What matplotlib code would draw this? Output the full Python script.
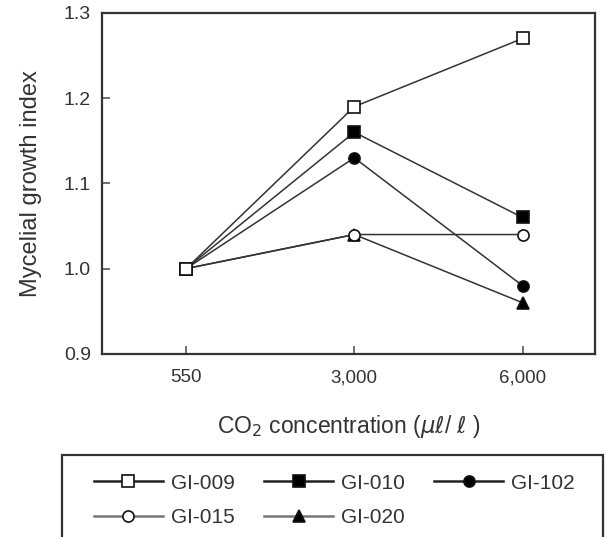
import matplotlib
matplotlib.use("Agg")
import matplotlib.pyplot as plt
from matplotlib.lines import Line2D
from matplotlib.patches import Rectangle

plt.rcParams['font.family'] = ['Liberation Sans', 'DejaVu Sans']

categories = ["550", "3,000", "6,000"]
series_names = ["GI-009", "GI-010", "GI-102", "GI-015", "GI-020"]
gi009 = [1.00, 1.19, 1.27]
gi010 = [1.00, 1.16, 1.06]
gi102 = [1.00, 1.13, 0.98]
gi015 = [1.00, 1.04, 1.04]
gi020 = [1.00, 1.04, 0.96]
yticks = [0.9, 1.0, 1.1, 1.2, 1.3]

series = [gi009, gi010, gi102, gi015, gi020]
markers = ['s', 's', 'o', 'o', '^']
msizes = [8.5, 8.5, 8, 8, 8]
faces = ['white', 'black', 'black', 'white', 'black']
zorders = [7, 4, 3, 6, 2]
leg_line_colors = ['#222222', '#222222', '#222222', '#777777', '#777777']

fig = plt.figure(figsize=(6.07, 5.37), dpi=100)
ax = fig.add_axes([0.168, 0.341, 0.812, 0.635])
x = list(range(len(categories)))
for vals, m, ms, fc, z in zip(series, markers, msizes, faces, zorders):
    ax.plot(x, vals, color='#333333', lw=1.1, marker=m, markersize=ms,
            markerfacecolor=fc, markeredgecolor='#111111', markeredgewidth=1.2, zorder=z)

ax.set_xlim(-0.5, 2.43)
ax.set_ylim(0.9, 1.3)
ax.set_xticks(x)
ax.set_xticklabels(categories, fontsize=13.5, color='#333333')
ax.set_yticks(yticks)
ax.set_yticklabels([f"{v:.1f}" for v in yticks], fontsize=14, color='#333333')
ax.tick_params(axis='both', direction='in', length=6, width=1.2, color='#555555')
ax.tick_params(axis='x', pad=11)
ax.tick_params(axis='y', pad=8)
for s in ax.spines.values():
    s.set_linewidth(1.6)
    s.set_color('#333333')
ax.set_ylabel("Mycelial growth index", fontsize=17, color='#333333', labelpad=16)
ax.set_xlabel(r"CO$_{\mathsf{2}}$ concentration ($\mu\ell$/ $\ell$ )", fontsize=16.5,
              color='#333333', labelpad=19)

handles = {}
for name, m, ms, fc, lc in zip(series_names, markers, msizes, faces, leg_line_colors):
    handles[name] = Line2D([], [], color=lc, lw=1.8, marker=m, markersize=ms,
                           markerfacecolor=fc, markeredgecolor='#111111',
                           markeredgewidth=1.2, label=name)
order = ["GI-009", "GI-015", "GI-010", "GI-020", "GI-102"]
leg = fig.legend(handles=[handles[n] for n in order], ncol=3, loc='upper left',
                 bbox_to_anchor=(0.155, 0.118),
                 fontsize=15, frameon=False, handlelength=3.3,
                 borderaxespad=0, handletextpad=0.4, columnspacing=1.4,
                 labelspacing=0.75, borderpad=0)
for t in leg.get_texts():
    t.set_color('#333333')

fig.patches.append(Rectangle((0.102, -0.02), 0.891, 0.173, transform=fig.transFigure,
                             fill=False, edgecolor='#333333', linewidth=1.6))

fig.savefig("out.png", dpi=100)
